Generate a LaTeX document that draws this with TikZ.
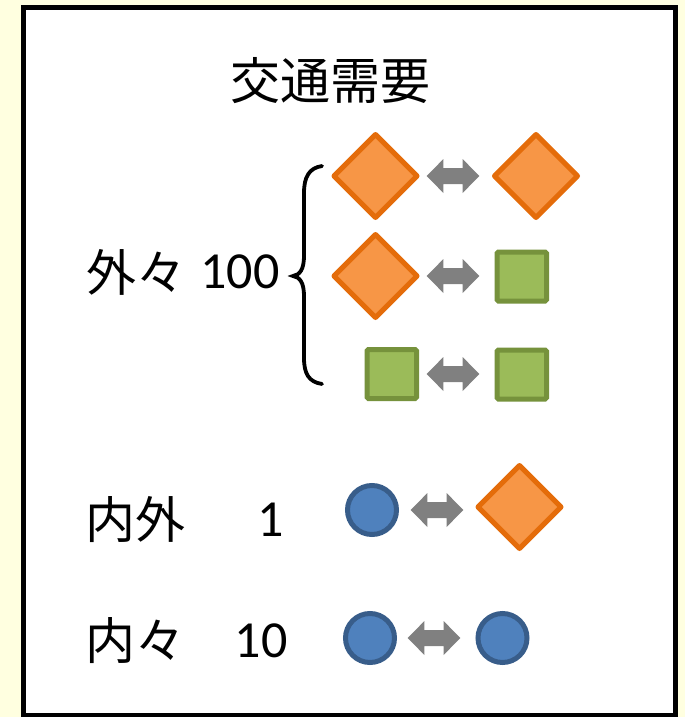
\documentclass[tikz,border=0pt]{standalone}
\usepackage{fontspec}
\setmainfont{Carlito}
\newfontfamily\cjk{Noto Sans CJK JP}
\definecolor{bgyel}{HTML}{FFFFE0}
\definecolor{orfill}{HTML}{F79646}
\definecolor{orline}{HTML}{E46C0A}
\definecolor{grfill}{HTML}{9BBB59}
\definecolor{grline}{HTML}{76923C}
\definecolor{blfill}{HTML}{4F81BD}
\definecolor{blline}{HTML}{385D8A}
\definecolor{arrgray}{HTML}{808080}
\tikzset{
  diam/.style={fill=orfill,draw=orline,line width=5pt,line join=round},
  sq/.style={fill=grfill,draw=grline,line width=5pt,rounded corners=1.5pt},
  circ/.style={fill=blfill,draw=blline,line width=5pt},
  cjklabel/.style={font=\cjk\fontsize{50}{50}\selectfont,inner sep=0pt},
  numlabel/.style={font=\fontsize{52}{52}\selectfont,inner sep=0pt},
  pics/dblarrow/.style={code={
    \fill[arrgray] (-26.3,0) -- (-9.6,17) -- (-9.6,8) -- (9.6,8) -- (9.6,17)
      -- (26.3,0) -- (9.6,-17) -- (9.6,-8) -- (-9.6,-8) -- (-9.6,-17) -- cycle;
  }},
}
\begin{document}
\begin{tikzpicture}[x=1pt,y=-1pt]
\useasboundingbox (0,0) rectangle (685,717);
\fill[bgyel] (0,0) rectangle (685,717);
\draw[line width=5pt,fill=white] (23.5,7.5) rectangle (675.5,715.5);

% title
\node[cjklabel] (title) at (330,81) {交通需要};

% labels
\node[cjklabel] (lab1) at (136,272) {外々};
\node[numlabel] (num1) at (240,272) {100};
\node[cjklabel] (lab2) at (135,520) {内外};
\node[numlabel] (num2) at (271,520) {1};
\node[cjklabel] (lab3) at (135,641) {内々};
\node[numlabel] (num3) at (261,641) {10};

% brace
\draw[line width=3.8pt,line cap=round] (322,166)
  .. controls (309,168) and (304,177) .. (304,193) -- (304,256)
  .. controls (304,269) and (300,275) .. (293,276)
  .. controls (300,277) and (304,283) .. (304,296) -- (304,358)
  .. controls (304,374) and (309,382) .. (322,384);

% row 1
\draw[diam] (375.5,176) coordinate (d1) ++(-41.5,0) -- ++(41.5,-41.5) -- ++(41.5,41.5) -- ++(-41.5,41.5) -- cycle;
\pic (a1) at (453,176) {dblarrow};
\draw[diam] (536,176) coordinate (d2) ++(-41.5,0) -- ++(41.5,-41.5) -- ++(41.5,41.5) -- ++(-41.5,41.5) -- cycle;

% row 2
\draw[diam] (375.5,276) coordinate (d3) ++(-41.5,0) -- ++(41.5,-41.5) -- ++(41.5,41.5) -- ++(-41.5,41.5) -- cycle;
\pic (a2) at (453,276) {dblarrow};
\draw[sq] (497,252) rectangle (546.5,301);

% row 3
\draw[sq] (367,349.5) rectangle (416.5,398.5);
\pic (a3) at (453,374) {dblarrow};
\draw[sq] (497,350) rectangle (546.5,399);

% row 4
\draw[circ] (372,510) circle (24.5);
\pic (a4) at (437,510) {dblarrow};
\draw[diam] (519.5,507) coordinate (d4) ++(-41.5,0) -- ++(41.5,-41.5) -- ++(41.5,41.5) -- ++(-41.5,41.5) -- cycle;

% row 5
\draw[circ] (370,638) circle (24.5);
\pic (a5) at (434,638) {dblarrow};
\draw[circ] (502.5,638) circle (24.5);
\end{tikzpicture}
\end{document}
